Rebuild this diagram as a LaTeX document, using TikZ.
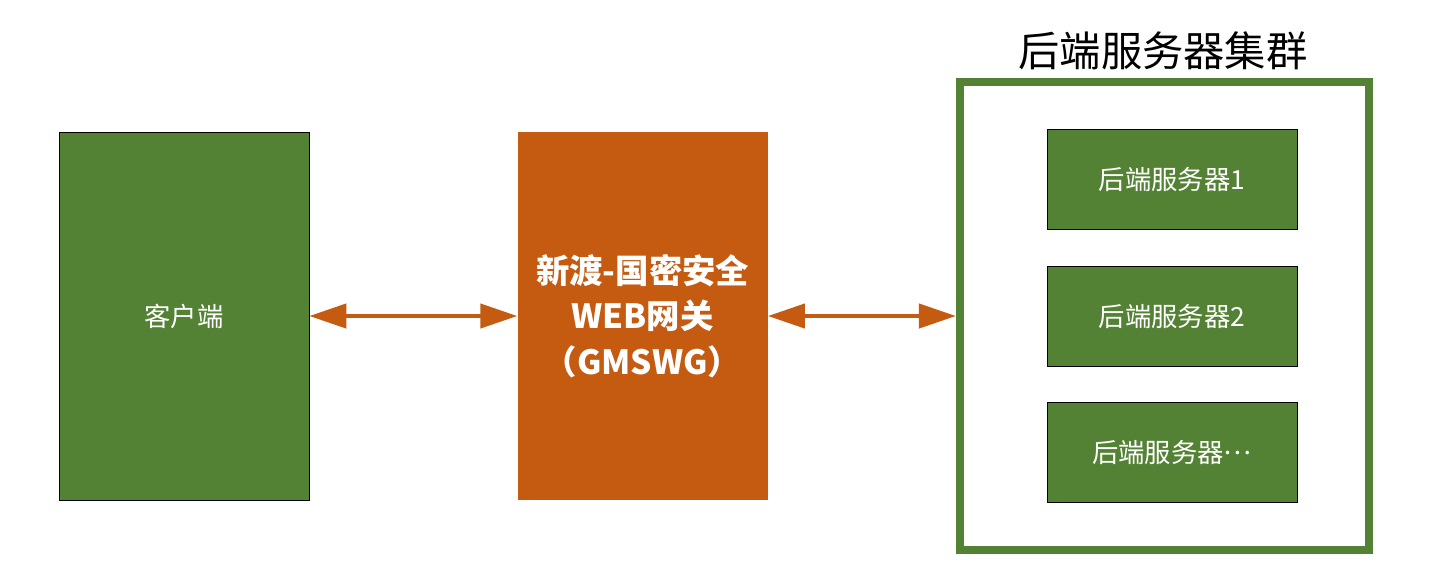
\documentclass[tikz,border=0pt]{standalone}
\usepackage{fontspec}
\setmainfont{Noto Sans CJK SC}
\usetikzlibrary{positioning,arrows.meta}
\definecolor{boxgreen}{HTML}{548235}
\definecolor{gateorange}{HTML}{C55A11}
\tikzset{green box/.style={rectangle,fill=boxgreen,draw=black,thin,text=white,minimum width=5cm,font=\fontsize{15}{18}\selectfont},
gate box/.style={rectangle,fill=gateorange,text=white,minimum width=5cm,minimum height=7.36cm,align=center,font=\bfseries\fontsize{19}{25.8}\selectfont},
cluster box/.style={rectangle,draw=boxgreen,line width=0.16cm,minimum width=8.18cm,minimum height=9.36cm},
link/.style={draw,gateorange,line width=2.4pt,{Triangle[length=0.74cm,width=0.48cm]}-{Triangle[length=0.74cm,width=0.48cm]}},
}

\begin{document}
\begin{tikzpicture}[x=0.02cm,y=-0.02cm]
				\useasboundingbox (0,0) rectangle (1446,583);
				\node[green box,minimum height=7.36cm] (client) at (184,316) {客户端};
				\node[gate box] (gmswg) [right =4.16cm of client] {新渡-国密安全\\WEB网关\\（GMSWG）};
				\node[cluster box] (cluster) [right = 3.76cm of gmswg] {};
				\node[font=\fontsize{23.5}{28}\selectfont] (title) at (1163,51) {后端服务器集群};
				
				\node[green box,minimum height=2cm] (srv2) at (1172,316.5) {后端服务器2};
				\node[green box,minimum height=2cm] (srv1) [above = 0.72cm of srv2] {后端服务器1};
				\node[green box,minimum height=2cm] (srv3) [below = 0.7cm of srv2] {后端服务器\raisebox{0.3em}{…}};
				
				\path[link]
				(client) edge (gmswg)
				(gmswg) edge (cluster);
				
			\end{tikzpicture}
\end{document}
